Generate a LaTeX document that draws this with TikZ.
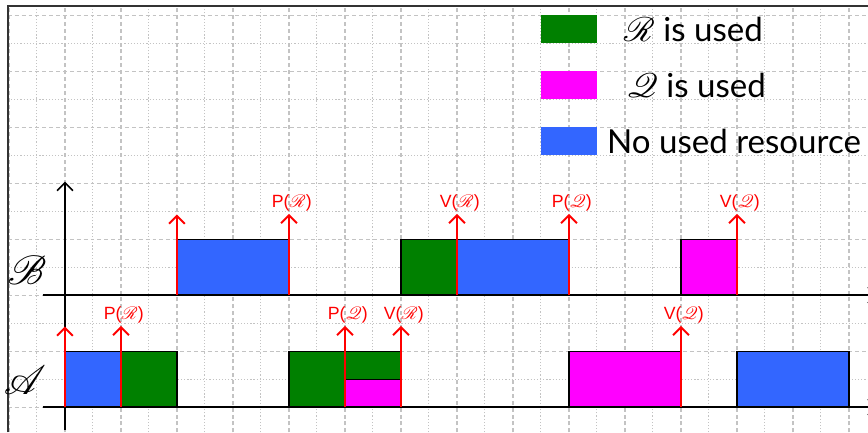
\documentclass[tikz,border=0pt]{standalone}
\usepackage{fontspec}
\setmainfont{Lato}
\newfontfamily\eventfont{Liberation Sans}
\usepackage{mathrsfs}
\usetikzlibrary{arrows.meta, calc, positioning}
\definecolor{usedR}{RGB}{0,128,0}
\definecolor{usedQ}{RGB}{255,0,255}
\definecolor{noused}{RGB}{51,102,255}
\definecolor{gridgray}{RGB}{195,195,195}
\tikzstyle{majorgrid} = [gridgray, line width=0.6pt, dash pattern=on 2pt off 1.5pt]
\tikzstyle{minorgrid} = [gridgray, line width=0.5pt, dash pattern=on 0.6pt off 1pt]
\tikzstyle{slotbox} = [draw=black, line width=0.6pt]
\tikzstyle{axisarrow} = [line width=0.8pt, -{Straight Barb[length=4pt,width=8pt]}]
\tikzstyle{eventarrow} = [red, line width=1pt, -{Straight Barb[length=4pt,width=8pt]}]
\tikzstyle{evlabel} = [red, anchor=south, inner sep=1pt, font=\eventfont\fontsize{9}{10}\selectfont]
\tikzstyle{legendtext} = [anchor=base west, inner sep=0pt, font=\fontsize{16.8}{18}\selectfont]

\begin{document}
\begin{tikzpicture}[x=0.5cm, y=0.5cm]
	\useasboundingbox (-2.32,-0.89) rectangle (28.68,14.54);
	\clip (-2.32,-0.89) rectangle (28.68,14.54);
	% grid
	\foreach \x in {-2,0,...,28} \draw [majorgrid] (\x,-0.9) -- (\x,14.32);
	\foreach \x in {-1,1,...,27} \draw [minorgrid] (\x,-0.9) -- (\x,14.32);
	\foreach \y in {0,2,...,14} \draw [majorgrid] (-2.04,\y) -- (28.7,\y);
	\foreach \y in {1,3,...,13} \draw [minorgrid] (-2.04,\y) -- (28.7,\y);
	\draw [line width=1pt, black!80] (-2.04,-0.9) -- (-2.04,14.32) -- (28.7,14.32);
	% legend
	\fill [usedR] (17,13) rectangle (19,14);
	\fill [usedQ] (17,11) rectangle (19,12);
	\fill [noused] (17,9) rectangle (19,10);
	\node (LegendR) [legendtext] at (19.95,13.05) {$\mathscr{R}$ is used};
	\node (LegendQ) [legendtext] at (20.05,11.05) {$\mathscr{Q}$ is used};
	\node (LegendNone) [legendtext] at (19.35,9.05) {No used resource};
	% task B
	\fill [noused, slotbox] (4,4) rectangle (8,6);
	\fill [usedR, slotbox] (12,4) rectangle (14,6);
	\fill [noused, slotbox] (14,4) rectangle (18,6);
	\fill [usedQ, slotbox] (22,4) rectangle (24,6);
	% task A
	\fill [noused, slotbox] (0,0) rectangle (2,2);
	\fill [usedR, slotbox] (2,0) rectangle (4,2);
	\fill [usedR, slotbox] (8,0) -- (8,2) -- (12,2) -- (12,1) -- (10,1) -- (10,0) -- cycle;
	\fill [usedQ, slotbox] (10,0) rectangle (12,1);
	\fill [usedQ, slotbox] (18,0) rectangle (22,2);
	\fill [noused, slotbox] (24,0) rectangle (28,2);
	% axes
	\coordinate (Origin) at (0,0);
	\coordinate (TimeTop) at (0,8.05);
	\coordinate (TimeBottom) at (0,-0.82);
	\coordinate (AxisAStart) at (-0.8,0);
	\coordinate (AxisAEnd) at (29,0);
	\coordinate (AxisBStart) at (-0.8,4);
	\coordinate (AxisBEnd) at (29,4);
	\draw [axisarrow] (TimeBottom) -- (TimeTop);
	\draw [axisarrow] (AxisAStart) -- (AxisAEnd);
	\draw [axisarrow] (AxisBStart) -- (AxisBEnd);
	\node (RowB) at (-1.36,4.9) {\huge$\mathscr{B}$};
	\node (RowA) at (-1.43,0.96) {\huge$\mathscr{A}$};
	% events of B
	\coordinate (StartB) at (4,4);
	\coordinate (StartBTip) at (4,6.88);
	\draw [eventarrow] (StartB) -- (StartBTip);
	\node (PRB) [evlabel] at (8.1,6.9) {P($\mathscr{R}$)};
	\node (VRB) [evlabel] at (14.1,6.9) {V($\mathscr{R}$)};
	\node (PQB) [evlabel] at (18.1,6.9) {P($\mathscr{Q}$)};
	\node (VQB) [evlabel] at (24.1,6.9) {V($\mathscr{Q}$)};
	\foreach \ev/\x in {PRB/8, VRB/14, PQB/18, VQB/24} {
		\coordinate (\ev Base) at (\x,4);
		\draw [eventarrow] (\ev Base) -- (\ev Base |- \ev.south);
	}
	% events of A
	\coordinate (StartATip) at (0,2.88);
	\draw [eventarrow] (Origin) -- (StartATip);
	\node (PRA) [evlabel] at (2.1,2.9) {P($\mathscr{R}$)};
	\node (PQA) [evlabel] at (10.1,2.9) {P($\mathscr{Q}$)};
	\node (VRA) [evlabel] at (12.1,2.9) {V($\mathscr{R}$)};
	\node (VQA) [evlabel] at (22.1,2.9) {V($\mathscr{Q}$)};
	\foreach \ev/\x in {PRA/2, PQA/10, VRA/12, VQA/22} {
		\coordinate (\ev Base) at (\x,0);
		\draw [eventarrow] (\ev Base) -- (\ev Base |- \ev.south);
	}
\end{tikzpicture}
\end{document}
